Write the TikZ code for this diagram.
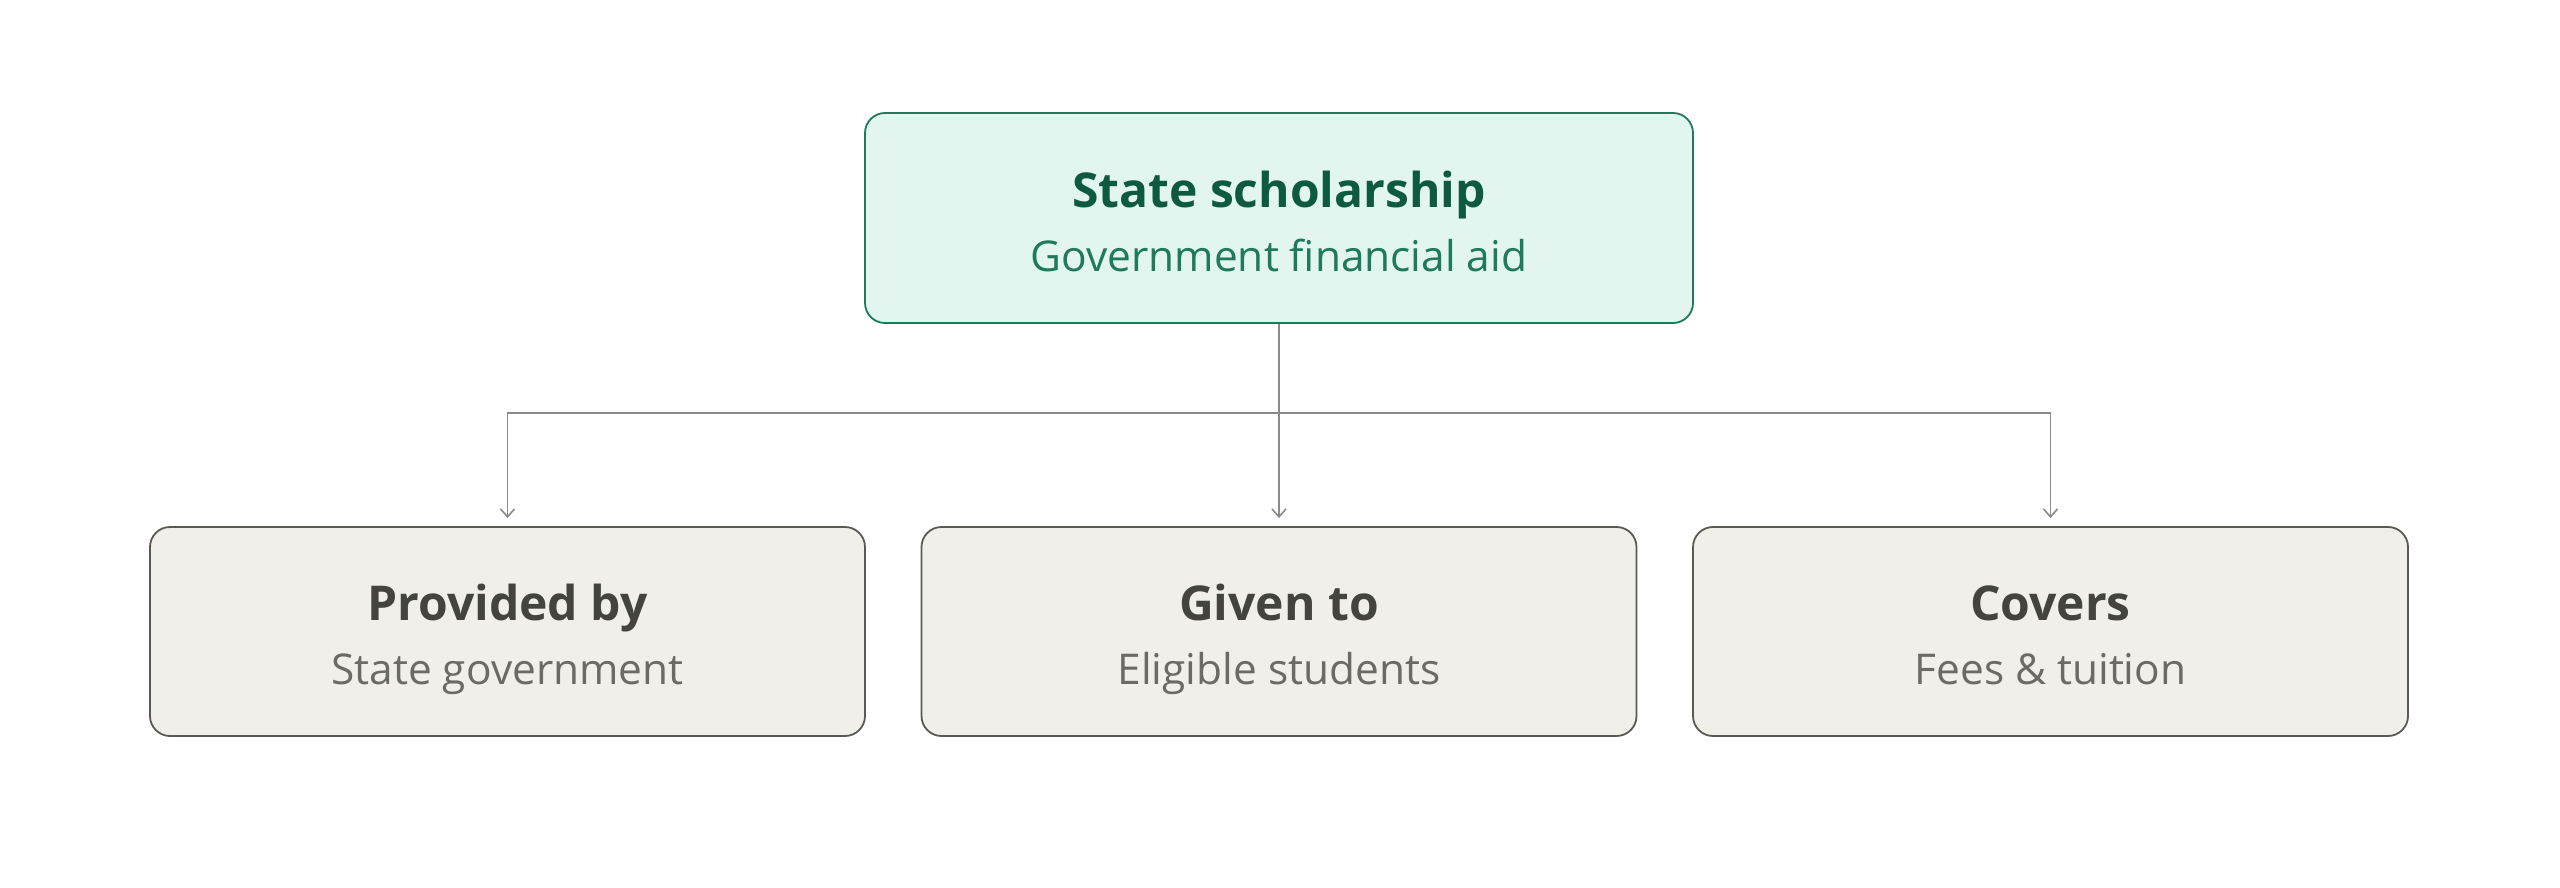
\documentclass[tikz,border=0pt]{standalone}
\usepackage{fontspec}
\setmainfont{Open Sans}
\usetikzlibrary{arrows.meta}
\definecolor{topfill}{HTML}{E2F5EE}
\definecolor{topdraw}{HTML}{1E7A5A}
\definecolor{toptitle}{HTML}{0D5A40}
\definecolor{topsub}{HTML}{1E7A5A}
\definecolor{botfill}{HTML}{F0EFEA}
\definecolor{botdraw}{HTML}{5A5A55}
\definecolor{bottitle}{HTML}{44443F}
\definecolor{botsub}{HTML}{6B6B66}
\definecolor{conn}{HTML}{8A8A8A}
\tikzset{
  x=0.5pt, y=-0.5pt,
  topbox/.style={draw=topdraw, fill=topfill, line width=0.9pt, rounded corners=10pt,
    minimum width=414pt, minimum height=105pt, inner sep=0pt},
  botbox/.style={draw=botdraw, fill=botfill, line width=0.9pt, rounded corners=10pt,
    minimum width=357.5pt, minimum height=104.5pt, inner sep=0pt},
  ttl/.style={anchor=base, inner sep=0pt, font=\fontsize{24}{28}\selectfont\bfseries},
  sub/.style={anchor=base, inner sep=0pt, font=\fontsize{21.2}{25}\selectfont},
  link/.style={draw=conn, line width=0.8pt, -{Straight Barb[length=4pt,width=7pt]}},
}
\begin{document}
\begin{tikzpicture}
\useasboundingbox (0,0) rectangle (2560,888);
\node[topbox] (top) at (1279,218) {};
\node[ttl, text=toptitle] (topt) at (1279,207) {State scholarship};
\node[sub, text=topsub] (tops) at (1279,271) {Government financial aid};

\node[botbox] (b1) at (507.5,631.5) {};
\node[botbox] (b2) at (1279,631.5) {};
\node[botbox] (b3) at (2050.5,631.5) {};
\node[ttl, text=bottitle] (b1t) at (507.5,620) {Provided by};
\node[sub, text=botsub] (b1s) at (507.5,684) {State government};
\node[ttl, text=bottitle] (b2t) at (1279,620) {Given to};
\node[sub, text=botsub] (b2s) at (1279,684) {Eligible students};
\node[ttl, text=bottitle] (b3t) at (2050.5,620) {Covers};
\node[sub, text=botsub] (b3s) at (2050.5,684) {Fees \& tuition};

\coordinate (split) at (1279,413);
\draw[link, shorten >=4pt] (top.south) -- (b2.north);
\draw[link, shorten >=4pt] (split) -| (b1.north);
\draw[link, shorten >=4pt] (split) -| (b3.north);
\end{tikzpicture}
\end{document}
